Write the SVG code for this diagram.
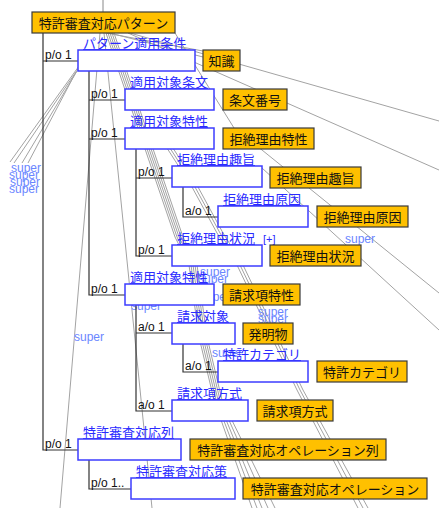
<svg xmlns="http://www.w3.org/2000/svg" width="439" height="508" viewBox="0 0 439 508">
<style>
.g{fill:none;stroke:#a3a3a3;stroke-width:1}
.t{fill:none;stroke:#333;stroke-width:1.2}
.role{fill:#fff;stroke:#3c3cff;stroke-width:1.5}
.cls{fill:#ffc000;stroke:#3a3a3a;stroke-width:1.2}
.rl{font-family:"Noto Sans CJK JP","Noto Sans CJK SC",sans-serif;font-size:13px;fill:#2a2aff;text-decoration:underline}
.ct{font-family:"Noto Sans CJK JP","Noto Sans CJK SC",sans-serif;font-size:13px;fill:#111;text-anchor:middle}
.po{font-family:"Liberation Sans",Arial,sans-serif;font-size:12px;fill:#111}
.su{font-family:"Liberation Sans",Arial,sans-serif;font-size:12px;fill:#6b86ff}
</style>
<rect width="439" height="508" fill="#fff"/>
<g id="connectors">
<line class="g" x1="103" y1="0" x2="103" y2="12" style="stroke:#888"/>
<line class="g" x1="130" y1="33" x2="439" y2="121"/>
<line class="g" x1="128" y1="33" x2="439" y2="170"/>
<line class="g" x1="106" y1="33" x2="203" y2="51"/>
<line class="g" x1="110" y1="33" x2="203" y2="57"/>
<line class="g" x1="175" y1="33" x2="234" y2="128"/>
<line class="g" x1="236" y1="129" x2="439" y2="293"/>
<line class="g" x1="262" y1="168" x2="439" y2="330"/>
<line class="g" x1="79" y1="66" x2="10" y2="162"/>
<line class="g" x1="78" y1="69" x2="14" y2="163"/>
<line class="g" x1="77" y1="71" x2="22" y2="163"/>
<line class="g" x1="76" y1="72" x2="28" y2="163"/>
<line class="g" x1="100" y1="33" x2="60" y2="508"/>
<line class="g" x1="104" y1="33" x2="152" y2="508"/>
<polyline class="g" points="106,33 119,72 142,140 175,237 189,265 199,337 214,400 252,508"/>
<polyline class="g" points="108,33 121,72 144,140 177,237 191,265 201,337 216,400 257,508"/>
<polyline class="g" points="110,33 123,72 146,140 179,237 193,265 203,337 218,400 262,508"/>
<polyline class="g" points="112,33 125,72 148,140 181,237 195,265 205,337 220,400 268,508"/>
<polyline class="g" points="114,33 127,72 150,140 183,237 197,265 207,337 222,400 275,508"/>
<polyline class="g" points="165,145 192,187 217,233 237,265 297,390 358,508"/>
<polyline class="g" points="168,145 195,187 220,233 240,265 300,390 363,508"/>
<polyline class="g" points="171,145 198,187 223,233 243,265 303,390 368,508"/>
<text class="su" x="11" y="172">super</text>
<text class="su" x="9" y="179">super</text>
<text class="su" x="10" y="186">super</text>
<text class="su" x="9" y="193">super</text>
<text class="su" x="74" y="341">super</text>
<text class="su" x="345" y="243">super</text>
<text class="su" x="200" y="276">super</text>
<text class="su" x="198" y="283">super</text>
<text class="su" x="200" y="301">super</text>
<text class="su" x="131" y="310">super</text>
<text class="su" x="258" y="316">super</text>
<text class="su" x="258" y="323">super</text>
<text class="su" x="212" y="357">super</text>
<polyline class="t" points="43,33 43,450 78,450"/>
<line class="t" x1="43" y1="61" x2="78" y2="61"/>
<polyline class="t" points="89,71 89,295 125,295"/>
<line class="t" x1="89" y1="100" x2="125" y2="100"/>
<line class="t" x1="89" y1="139" x2="125" y2="139"/>
<polyline class="t" points="136,149 136,256 172,256"/>
<line class="t" x1="136" y1="178" x2="172" y2="178"/>
<polyline class="t" points="183,187 183,217 218,217"/>
<polyline class="t" points="136,305 136,411 172,411"/>
<line class="t" x1="136" y1="333" x2="172" y2="333"/>
<polyline class="t" points="183,344 183,372 218,372"/>
<polyline class="t" points="89,460 89,489 131,489"/>
<text class="po" x="45" y="59">p/o 1</text>
<text class="po" x="91" y="98">p/o 1</text>
<text class="po" x="91" y="137">p/o 1</text>
<text class="po" x="138" y="176">p/o 1</text>
<text class="po" x="185" y="215">a/o 1</text>
<text class="po" x="138" y="254">p/o 1</text>
<text class="po" x="91" y="293">p/o 1</text>
<text class="po" x="138" y="331">a/o 1</text>
<text class="po" x="185" y="370">a/o 1</text>
<text class="po" x="138" y="409">a/o 1</text>
<text class="po" x="45" y="448">p/o 1</text>
<text class="po" x="91" y="487">p/o 1..</text>
</g>
<g id="root">
<rect class="cls" x="32" y="12" width="143" height="21"/>
<text class="ct" x="103.5" y="28">特許審査対応パターン</text>
</g>
<g id="pattern-condition">
<text class="rl" x="83" y="48">パターン適用条件</text>
<rect class="role" x="78" y="50" width="117" height="21"/>
<rect class="cls" x="203" y="50" width="37" height="21"/>
<text class="ct" x="221.5" y="66">知識</text>
</g>
<g id="target-article">
<text class="rl" x="130" y="87">適用対象条文</text>
<rect class="role" x="125" y="89" width="89" height="21"/>
<rect class="cls" x="223" y="89" width="64" height="21"/>
<text class="ct" x="255" y="105">条文番号</text>
</g>
<g id="target-feature1">
<text class="rl" x="130" y="126">適用対象特性</text>
<rect class="role" x="125" y="128" width="89" height="21"/>
<rect class="cls" x="223" y="128" width="91" height="21"/>
<text class="ct" x="268.5" y="144">拒絶理由特性</text>
</g>
<g id="rejection-purpose">
<text class="rl" x="177" y="164">拒絶理由趣旨</text>
<rect class="role" x="172" y="166" width="90" height="21"/>
<rect class="cls" x="270" y="167" width="91" height="21"/>
<text class="ct" x="315.5" y="183">拒絶理由趣旨</text>
</g>
<g id="rejection-cause">
<text class="rl" x="223" y="204">拒絶理由原因</text>
<rect class="role" x="218" y="206" width="90" height="21"/>
<rect class="cls" x="317" y="206" width="91" height="21"/>
<text class="ct" x="362.5" y="222">拒絶理由原因</text>
</g>
<g id="rejection-situation">
<text class="rl" x="177" y="243">拒絶理由状況</text>
<text class="po" x="263" y="243" style="fill:#2a2aff;font-size:11px">[+]</text>
<rect class="role" x="172" y="245" width="90" height="21"/>
<rect class="cls" x="270" y="245" width="91" height="21"/>
<text class="ct" x="315.5" y="261">拒絶理由状況</text>
</g>
<g id="target-feature2">
<text class="rl" x="130" y="282">適用対象特性</text>
<rect class="role" x="125" y="284" width="89" height="21"/>
<rect class="cls" x="223" y="284" width="77" height="21"/>
<text class="ct" x="261.5" y="300">請求項特性</text>
</g>
<g id="claim-object">
<text class="rl" x="177" y="321">請求対象</text>
<rect class="role" x="172" y="323" width="63" height="21"/>
<rect class="cls" x="243" y="323" width="50" height="21"/>
<text class="ct" x="268" y="339">発明物</text>
</g>
<g id="patent-category">
<text class="rl" x="223" y="359">特許カテゴリ</text>
<rect class="role" x="218" y="361" width="90" height="21"/>
<rect class="cls" x="317" y="361" width="90" height="21"/>
<text class="ct" x="362" y="377">特許カテゴリ</text>
</g>
<g id="claim-format">
<text class="rl" x="177" y="398">請求項方式</text>
<rect class="role" x="172" y="400" width="76" height="21"/>
<rect class="cls" x="257" y="400" width="76" height="21"/>
<text class="ct" x="295" y="416">請求項方式</text>
</g>
<g id="response-sequence">
<text class="rl" x="83" y="437">特許審査対応列</text>
<rect class="role" x="78" y="439" width="103" height="21"/>
<rect class="cls" x="190" y="439" width="196" height="21"/>
<text class="ct" x="288" y="455">特許審査対応オペレーション列</text>
</g>
<g id="response-measure">
<text class="rl" x="136" y="476">特許審査対応策</text>
<rect class="role" x="131" y="478" width="104" height="21"/>
<rect class="cls" x="243" y="478" width="184" height="21"/>
<text class="ct" x="335" y="494">特許審査対応オペレーション</text>
</g>
</svg>
